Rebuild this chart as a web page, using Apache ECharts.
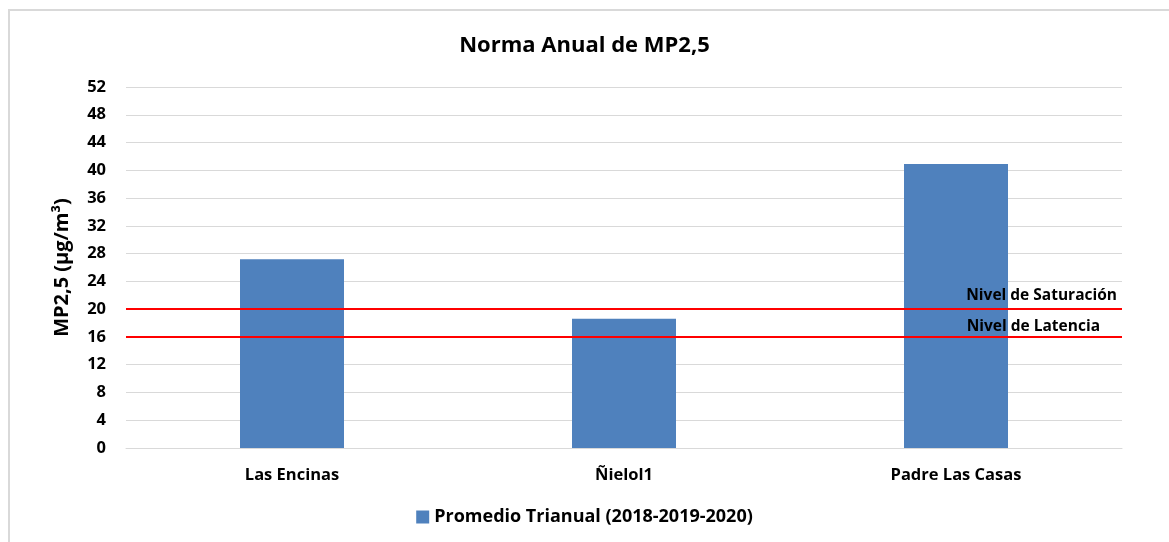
<!DOCTYPE html>
<html>
<head>
<meta charset="utf-8">
<script src="https://cdn.jsdelivr.net/npm/echarts@6/dist/echarts.min.js"></script>
<style>
  html, body { margin: 0; padding: 0; background: #fff; }
  #frame { position: absolute; left: 8px; top: 9px; width: 1161px; height: 533px;
           border-top: 2px solid #d9d9d9; border-left: 2px solid #d9d9d9; box-sizing: border-box; }
  #chart { position: absolute; left: 0; top: 0; width: 1169px; height: 542px; }
</style>
</head>
<body>
<div id="frame"></div>
<div id="chart"></div>
<script>
var categories = ['Las Encinas', 'Ñielol1', 'Padre Las Casas']
var promedio = [27.2, 18.6, 40.9]
var seriesName = 'Promedio Trianual (2018-2019-2020)'
var yTicks = [0, 4, 8, 12, 16, 20, 24, 28, 32, 36, 40, 44, 48, 52]
var nivelSaturacion = 20
var nivelLatencia = 16

var font = "'Open Sans', 'Liberation Sans', sans-serif"
var chart = echarts.init(document.getElementById('chart'))

chart.setOption({
  backgroundColor: 'transparent',
  title: {
    text: 'Norma Anual de MP2,5',
    left: 'center',
    top: 30,
    textStyle: { fontFamily: font, fontWeight: 'bold', fontSize: 22, color: '#000' }
  },
  legend: {
    bottom: 11,
    left: 'center',
    icon: 'rect',
    itemWidth: 13,
    itemHeight: 13,
    itemGap: 5,
    data: [seriesName],
    textStyle: { fontFamily: font, fontWeight: 'bold', fontSize: 18, color: '#000' }
  },
  grid: {
    left: 126,
    right: 47,
    top: 87,
    bottom: 94
  },
  xAxis: {
    type: 'category',
    data: categories,
    axisLine: { lineStyle: { color: '#d9d9d9' } },
    axisTick: { show: false },
    axisLabel: { fontFamily: font, fontWeight: 'bold', fontSize: 16.5, color: '#000', margin: 19 }
  },
  yAxis: {
    type: 'value',
    min: yTicks[0],
    max: yTicks[yTicks.length - 1],
    interval: 4,
    name: 'MP2,5 (µg/m³)',
    nameLocation: 'middle',
    nameGap: 54,
    nameTextStyle: { fontFamily: font, fontWeight: 'bold', fontSize: 20, color: '#000' },
    axisLine: { show: false },
    axisTick: { show: false },
    axisLabel: { fontFamily: font, fontWeight: 'bold', fontSize: 16.5, color: '#000', margin: 20 },
    splitLine: { lineStyle: { color: '#d9d9d9', width: 1 } }
  },
  series: [{
    name: seriesName,
    type: 'bar',
    data: promedio,
    barWidth: 104,
    itemStyle: { color: '#4f81bd' },
    markLine: {
      silent: true,
      symbol: 'none',
      lineStyle: { color: '#ff0000', width: 2, type: 'solid' },
      label: {
        position: 'insideEndTop',
        fontFamily: font,
        fontWeight: 'bold',
        fontSize: 15.5,
        color: '#000'
      },
      data: [
        { yAxis: nivelSaturacion, label: { formatter: 'Nivel de Saturación', distance: [5, 6] } },
        { yAxis: nivelLatencia, label: { formatter: 'Nivel de Latencia', distance: [22, 2] } }
      ]
    }
  }]
})
</script>
</body>
</html>
